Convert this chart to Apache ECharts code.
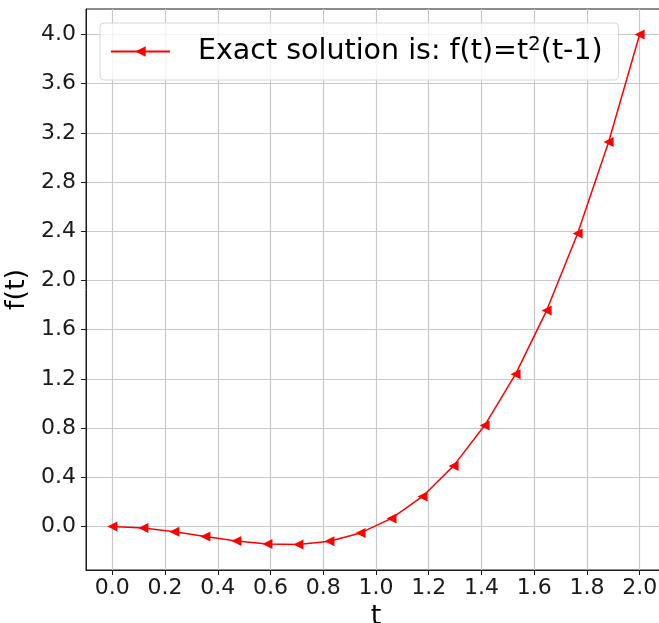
<!DOCTYPE html>
<html>
<head>
<meta charset="utf-8">
<script src="https://cdn.jsdelivr.net/npm/echarts@6/dist/echarts.min.js"></script>
<style>html,body{margin:0;padding:0;background:#fff}#c{width:659px;height:623px}</style>
</head>
<body>
<div id="c"></div>
<script>
// Sampled points of the exact solution
const tValues = [0.0, 0.1176, 0.2353, 0.3529, 0.4706, 0.5882, 0.7059, 0.8235, 0.9412,
                 1.0588, 1.1765, 1.2941, 1.4118, 1.5294, 1.6471, 1.7647, 1.8824, 2.0];
const fValues = [0.0, -0.0122, -0.0423, -0.0806, -0.1172, -0.1425, -0.1466, -0.1197, -0.0521,
                 0.0660, 0.2443, 0.4926, 0.8207, 1.2384, 1.7553, 2.3814, 3.1264, 4.0];
const xTicks = [0.0, 0.2, 0.4, 0.6, 0.8, 1.0, 1.2, 1.4, 1.6, 1.8, 2.0];
const yTicks = [0.0, 0.4, 0.8, 1.2, 1.6, 2.0, 2.4, 2.8, 3.2, 3.6, 4.0];
const seriesName = 'Exact solution is: f(t)=t{sup|2}(t-1)';

const font = 'DejaVu Sans';
const chart = echarts.init(document.getElementById('c'), null, {renderer: 'canvas'});
chart.setOption({
  animation: false,
  grid: {left: 86, top: 9, width: 580, height: 561, show: true,
         borderColor: '#1a1a1a', borderWidth: 1, backgroundColor: 'transparent',
         containLabel: false, outerBoundsMode: 'none'},
  legend: {
    left: 100, top: 23,
    padding: [12, 16, 12, 10],
    backgroundColor: 'rgba(255,255,255,0.8)',
    borderColor: '#d6d6d6', borderWidth: 1, borderRadius: 4,
    itemWidth: 59, itemHeight: 13,
    formatter: () => seriesName,
    textStyle: {
      fontFamily: font, fontSize: 28.5, color: '#000', lineHeight: 33,
      padding: [0, 0, 0, 23],
      rich: {
        sup: {fontFamily: font, fontSize: 20, color: '#000', verticalAlign: 'top', lineHeight: 22, padding: [0, 0, 0, 0]}
      }
    },
    data: ['exact']
  },
  xAxis: {
    type: 'value', min: -0.1, max: 2.1,
    name: 't', nameLocation: 'middle', nameGap: 30,
    nameTextStyle: {fontFamily: font, fontSize: 27, color: '#000'},
    axisLine: {show: true, onZero: false, lineStyle: {color: '#1a1a1a', width: 1}},
    axisTick: {show: true, customValues: xTicks, length: 5, lineStyle: {color: '#1a1a1a', width: 1}},
    axisLabel: {customValues: xTicks, margin: 7, fontFamily: font, fontSize: 22, color: '#1a1a1a',
                formatter: v => v.toFixed(1)},
    splitLine: {show: true, lineStyle: {color: '#c8c8c8', width: 1.2}}
  },
  yAxis: {
    type: 'value', min: -0.3537, max: 4.2073,
    name: 'f(t)', nameLocation: 'middle', nameGap: 50,
    nameTextStyle: {fontFamily: font, fontSize: 27, color: '#000'},
    axisLine: {show: true, onZero: false, lineStyle: {color: '#1a1a1a', width: 1}},
    axisTick: {show: true, customValues: yTicks, length: 5, lineStyle: {color: '#1a1a1a', width: 1}},
    axisLabel: {customValues: yTicks, margin: 10, fontFamily: font, fontSize: 22, color: '#1a1a1a',
                formatter: v => v.toFixed(1)},
    splitLine: {show: true, lineStyle: {color: '#c8c8c8', width: 1.2}}
  },
  series: [{
    name: 'exact',
    type: 'line',
    data: tValues.map((t, i) => [t, fValues[i]]),
    symbol: 'triangle', symbolSize: 10, symbolRotate: 90,
    showAllSymbol: true,
    lineStyle: {color: '#ff0000', width: 1.5},
    itemStyle: {color: '#ff0000'},
    clip: false
  }]
});
</script>
</body>
</html>
